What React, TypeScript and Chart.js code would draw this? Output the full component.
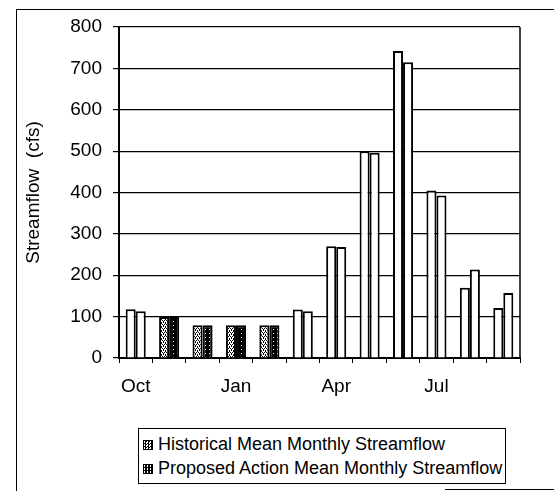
import React, { useEffect, useRef } from 'react';
import { Chart, registerables } from 'chart.js';

Chart.register(...registerables);

const months = ['Oct', 'Nov', 'Dec', 'Jan', 'Feb', 'Mar', 'Apr', 'May', 'Jun', 'Jul', 'Aug', 'Sep'];
const shownMonthLabels = ['Oct', 'Jan', 'Apr', 'Jul'];
const patternedMonths = ['Nov', 'Dec', 'Jan', 'Feb'];
const historical = [118, 99, 79, 79, 79, 117, 270, 500, 742, 405, 170, 121];
const proposed = [113, 99, 79, 79, 79, 113, 268, 496, 715, 393, 214, 157];
const yTicks = [0, 100, 200, 300, 400, 500, 600, 700, 800];
const seriesNames = ['Historical Mean Monthly Streamflow', 'Proposed Action Mean Monthly Streamflow'];

const FONT = '"Liberation Sans", Arial, sans-serif';

function makePattern(dark: boolean): CanvasPattern | string {
  const c = document.createElement('canvas');
  c.width = 4;
  c.height = 4;
  const g = c.getContext('2d');
  if (!g) return dark ? '#111' : '#888';
  g.fillStyle = dark ? '#000' : '#fff';
  g.fillRect(0, 0, 4, 4);
  g.fillStyle = dark ? '#fff' : '#000';
  if (dark) {
    g.fillRect(1, 1, 1, 1);
  } else {
    g.fillRect(0, 0, 1, 1);
    g.fillRect(2, 0, 1, 1);
    g.fillRect(1, 2, 1, 2);
    g.fillRect(3, 1, 1, 2);
  }
  const p = g.createPattern(c, 'repeat');
  return p || (dark ? '#111' : '#888');
}

const frameBorder = {
  id: 'frameBorder',
  afterDatasetsDraw(chart: any) {
    const { ctx, chartArea } = chart;
    ctx.save();
    ctx.strokeStyle = '#000';
    ctx.lineWidth = 1.5;
    ctx.beginPath();
    ctx.moveTo(chartArea.right, chartArea.top);
    ctx.lineTo(chartArea.right, chartArea.bottom);
    ctx.stroke();
    ctx.restore();
  },
};

export default function App() {
  const ref = useRef<HTMLCanvasElement | null>(null);

  useEffect(() => {
    if (!ref.current) return;
    const light = makePattern(false);
    const dark = makePattern(true);
    const histBg = months.map((m) => (patternedMonths.includes(m) ? light : '#fff'));
    const propBg = months.map((m) => (patternedMonths.includes(m) ? dark : '#fff'));

    const chart = new Chart(ref.current, {
      type: 'bar',
      data: {
        labels: months,
        datasets: [
          {
            label: seriesNames[0],
            data: historical,
            backgroundColor: histBg as any,
            borderColor: '#000',
            borderWidth: 2,
            categoryPercentage: 0.6,
            barPercentage: 1.0,
          },
          {
            label: seriesNames[1],
            data: proposed,
            backgroundColor: propBg as any,
            borderColor: '#000',
            borderWidth: 2,
            categoryPercentage: 0.6,
            barPercentage: 1.0,
          },
        ],
      },
      options: {
        animation: false,
        responsive: false,
        layout: { padding: { top: 27, right: 34, left: 0, bottom: 0 } },
        plugins: {
          legend: { display: false },
          tooltip: { enabled: false },
        },
        scales: {
          x: {
            offset: true,
            grid: {
              offset: true,
              drawOnChartArea: false,
              drawTicks: true,
              tickLength: 5,
              color: '#000',
              lineWidth: 1,
            },
            border: { display: true, color: '#000', width: 2 },
            ticks: {
              autoSkip: false,
              maxRotation: 0,
              color: '#000',
              font: { family: FONT, size: 19 },
              padding: 12,
              callback: (_v: any, i: number) => (shownMonthLabels.includes(months[i]) ? months[i] : ''),
            },
            afterFit: (scale: any) => {
              scale.height = 62;
            },
          },
          y: {
            min: 0,
            max: 800,
            afterBuildTicks: (scale: any) => {
              scale.ticks = yTicks.map((v) => ({ value: v }));
            },
            grid: {
              color: '#000',
              lineWidth: 1.2,
              tickLength: 6,
            },
            border: { display: true, color: '#000', width: 2 },
            ticks: {
              color: '#000',
              font: { family: FONT, size: 19 },
              padding: 11,
            },
            title: {
              display: true,
              text: 'Streamflow  (cfs)',
              color: '#000',
              font: { family: FONT, size: 19 },
              padding: { top: 22, bottom: 0 },
            },
            afterFit: (scale: any) => {
              scale.width = 119;
            },
          },
        },
      },
      plugins: [frameBorder],
    });
    return () => chart.destroy();
  }, []);

  const symStyle = (dark: boolean): React.CSSProperties => ({
    display: 'inline-block',
    width: 8,
    height: 8,
    border: '1px solid #000',
    marginRight: 5,
    verticalAlign: 'middle',
    background: dark
      ? 'repeating-conic-gradient(#000 0 75%, #fff 0 100%) 0 0 / 3px 3px'
      : 'repeating-conic-gradient(#000 0 25%, #fff 0 50%) 0 0 / 3px 3px',
  });

  const rowStyle: React.CSSProperties = {
    position: 'absolute',
    left: 4,
    height: 24,
    lineHeight: '24px',
    whiteSpace: 'nowrap',
    fontFamily: FONT,
    fontSize: 18,
    color: '#000',
  };

  return (
    <div style={{ position: 'absolute', left: 0, top: 0, width: 554, height: 491, overflow: 'hidden', background: '#fff' }}>
      <div
        style={{
          position: 'absolute',
          left: 16,
          top: 9,
          width: 538,
          height: 482,
          borderTop: '1.5px solid #000',
          borderLeft: '1.5px solid #000',
          boxSizing: 'border-box',
        }}
      />
      <div style={{ position: 'absolute', left: 445, top: 489, width: 109, height: 0, borderTop: '1px solid #000' }} />
      <canvas ref={ref} width={554} height={420} style={{ position: 'absolute', left: 0, top: 0, width: 554, height: 420 }} />
      <div
        style={{
          position: 'absolute',
          left: 138,
          top: 428,
          width: 368,
          height: 56,
          border: '1.5px solid #000',
          boxSizing: 'border-box',
          background: '#fff',
        }}
      >
        <div style={{ ...rowStyle, top: 3 }}>
          <span style={symStyle(false)} />
          {seriesNames[0]}
        </div>
        <div style={{ ...rowStyle, top: 27 }}>
          <span style={symStyle(true)} />
          {seriesNames[1]}
        </div>
      </div>
    </div>
  );
}
